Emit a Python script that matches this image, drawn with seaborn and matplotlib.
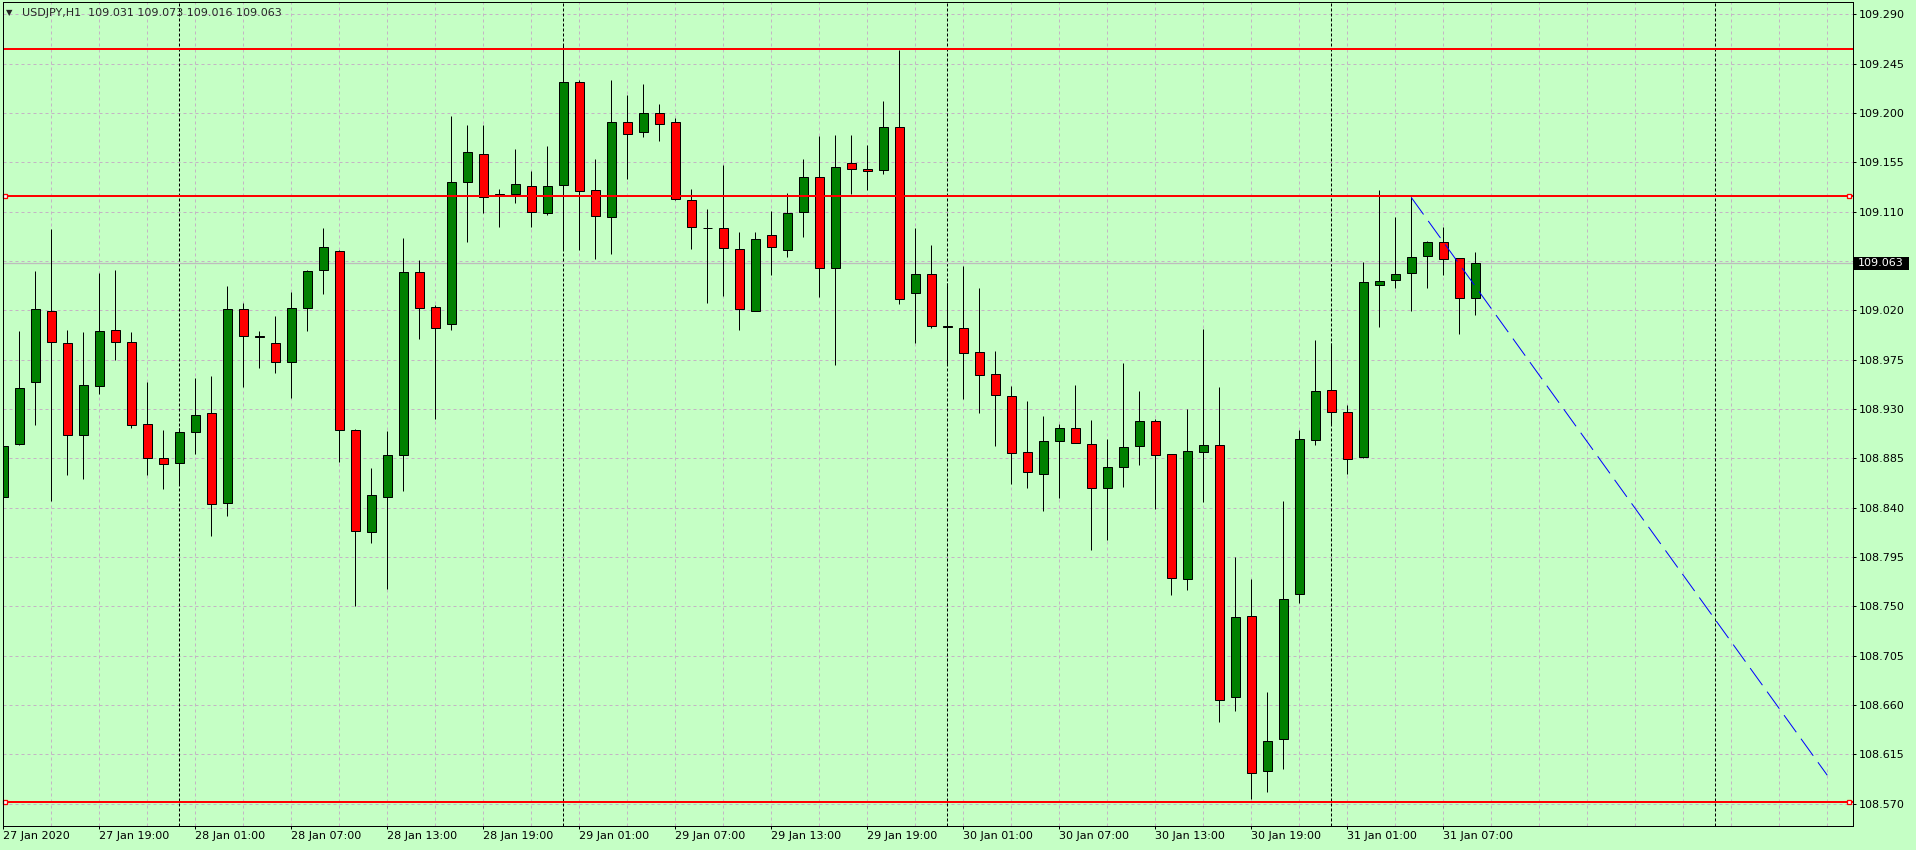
import numpy as np
import pandas as pd
import matplotlib.pyplot as plt
import seaborn as sns
from matplotlib.patches import Rectangle
from matplotlib.transforms import IdentityTransform

# ***** ***** ***** chart data ***** ***** ***** #
symbol = "USDJPY,H1"
start_time = "2020-01-27 13:00"

opens = [108.850, 108.898, 108.955, 109.019, 108.990, 108.906, 108.951, 109.002, 108.991, 108.916,
         108.885, 108.881, 108.909, 108.926, 108.844, 109.021, 108.997, 108.990, 108.973, 109.022,
         109.057, 109.074, 108.911, 108.818, 108.850, 108.888, 109.055, 109.023, 109.008, 109.137,
         109.163, 109.126, 109.126, 109.133, 109.109, 109.134, 109.228, 109.130, 109.105, 109.192,
         109.183, 109.200, 109.192, 109.121, 109.095, 109.095, 109.076, 109.019, 109.089, 109.075,
         109.110, 109.142, 109.059, 109.154, 109.149, 109.148, 109.187, 109.036, 109.053, 109.006,
         109.004, 108.982, 108.962, 108.942, 108.891, 108.871, 108.901, 108.913, 108.898, 108.858,
         108.877, 108.896, 108.919, 108.889, 108.775, 108.891, 108.897, 108.667, 108.741, 108.600,
         108.629, 108.761, 108.902, 108.947, 108.927, 108.886, 109.043, 109.048, 109.054, 109.070,
         109.082, 109.068, 109.031]
highs = [108.951, 109.001, 109.056, 109.094, 109.002, 109.000, 109.054, 109.057, 109.000, 108.955,
         108.911, 108.913, 108.958, 108.960, 109.042, 109.027, 109.001, 109.015, 109.037, 109.057,
         109.095, 109.075, 108.912, 108.876, 108.910, 109.086, 109.066, 109.025, 109.197, 109.189,
         109.189, 109.131, 109.167, 109.147, 109.170, 109.263, 109.230, 109.158, 109.230, 109.216,
         109.226, 109.208, 109.195, 109.131, 109.112, 109.153, 109.091, 109.091, 109.111, 109.127,
         109.158, 109.179, 109.180, 109.180, 109.171, 109.211, 109.257, 109.095, 109.080, 109.045,
         109.060, 109.040, 108.983, 108.951, 108.937, 108.924, 108.916, 108.952, 108.920, 108.903,
         108.972, 108.946, 108.921, 108.889, 108.930, 109.003, 108.950, 108.795, 108.775, 108.672,
         108.846, 108.911, 108.993, 108.990, 108.934, 109.064, 109.130, 109.105, 109.123, 109.083,
         109.096, 109.068, 109.073]
lows = [108.822, 108.897, 108.915, 108.846, 108.870, 108.866, 108.944, 108.975, 108.913, 108.870,
        108.857, 108.861, 108.889, 108.814, 108.832, 108.950, 108.967, 108.963, 108.940, 109.001,
        109.035, 108.882, 108.750, 108.808, 108.766, 108.855, 108.994, 108.921, 109.002, 109.082,
        109.109, 109.096, 109.118, 109.096, 109.107, 109.075, 109.075, 109.067, 109.071, 109.140,
        109.178, 109.174, 109.121, 109.076, 109.027, 109.033, 109.002, 109.019, 109.052, 109.069,
        109.087, 109.032, 108.970, 109.126, 109.130, 109.144, 109.026, 108.990, 109.004, 108.970,
        108.939, 108.926, 108.896, 108.862, 108.858, 108.837, 108.849, 108.899, 108.801, 108.811,
        108.859, 108.879, 108.839, 108.760, 108.765, 108.845, 108.645, 108.655, 108.574, 108.581,
        108.602, 108.753, 108.897, 108.915, 108.871, 108.885, 109.005, 109.040, 109.019, 109.040,
        109.052, 108.998, 109.016]
closes = [108.896, 108.949, 109.021, 108.991, 108.906, 108.952, 109.001, 108.991, 108.915, 108.885,
          108.880, 108.909, 108.925, 108.843, 109.021, 108.997, 108.996, 108.973, 109.022, 109.056,
          109.078, 108.911, 108.819, 108.852, 108.888, 109.055, 109.022, 109.004, 109.137, 109.164,
          109.123, 109.125, 109.135, 109.110, 109.133, 109.228, 109.129, 109.106, 109.192, 109.181,
          109.200, 109.190, 109.122, 109.096, 109.095, 109.077, 109.021, 109.085, 109.078, 109.109,
          109.142, 109.059, 109.151, 109.149, 109.147, 109.187, 109.030, 109.053, 109.006, 109.005,
          108.981, 108.961, 108.943, 108.890, 108.873, 108.901, 108.913, 108.899, 108.858, 108.877,
          108.895, 108.919, 108.888, 108.776, 108.892, 108.897, 108.665, 108.740, 108.598, 108.627,
          108.757, 108.903, 108.946, 108.927, 108.884, 109.046, 109.047, 109.053, 109.069, 109.082,
          109.067, 109.031, 109.063]

price_ticks = [109.290, 109.245, 109.200, 109.155, 109.110, 109.065, 109.020, 108.975,
               108.930, 108.885, 108.840, 108.795, 108.750, 108.705, 108.660, 108.615, 108.570]
hidden_tick = 109.065  # sits under the price tag

levels = [109.258, 109.124, 108.572]
level_marked = [False, True, True]

trend_bars = [88, 114]
trend_prices = [109.123, 108.596]

# ***** ***** ***** style ***** ***** ***** #
sns.set_style("ticks")
plt.rcParams["font.family"] = ["DejaVu Sans"]
plt.rcParams["lines.scale_dashes"] = False

bg = "#C5FFC5"
grid_c = "#C4B4C4"
px = 0.72  # one pixel in points at dpi 100
W, H = 1916, 850

df = pd.DataFrame({"open": opens, "high": highs, "low": lows, "close": closes})
df["bar"] = np.arange(len(df))
df["up"] = df["close"] >= df["open"]
times = pd.date_range(start_time, periods=len(df) + 24, freq="h")

fig = plt.figure(figsize=(W / 100, H / 100), dpi=100, facecolor=bg)
ax = fig.add_axes([2.7 / W, 24 / H, 1850 / W, 824.3 / H])
ax.set_facecolor(bg)
xmin, xmax = -0.0375, 115.59
ax.set_xlim(xmin, xmax)
ax.set_ylim(108.5497, 109.3015)

# grid
for p in price_ticks:
    ax.axhline(p, color=grid_c, lw=px, ls=(0, (3 * px, 3 * px)), zorder=1)
for b in range(3, int(xmax) + 1, 3):
    ax.axvline(b, color=grid_c, lw=px, ls=(0, (3 * px, 3 * px)), zorder=1)

# day separators
for i, t in enumerate(times):
    if t.hour == 0 and i < xmax:
        ax.axvline(i, color="black", lw=px, ls=(0, (3 * px, 2 * px)), zorder=2)

# bid line
ax.axhline(closes[-1], color="#BDBDBD", lw=1.3 * px, zorder=2)

# candles
ax.vlines(df["bar"], df["low"], df["high"], color="black", lw=px, zorder=3)
ax.bar(df["bar"], (df["close"] - df["open"]).abs(),
       bottom=df[["open", "close"]].min(axis=1), width=0.58,
       color=np.where(df["up"], "#008000", "#FF0000"),
       edgecolor="black", linewidth=px, zorder=4)

# horizontal levels
for lv, mk in zip(levels, level_marked):
    ax.axhline(lv, color="#FF0000", lw=2 * px, zorder=5)
    if mk:
        ax.plot([0.09, 115.36], [lv, lv], "s", ms=5 * px, mfc="white", mec="#FF0000",
                mew=1.3 * px, zorder=6, clip_on=False)

# trend line
sns.lineplot(x=trend_bars, y=trend_prices, color="blue", lw=px,
             linestyle=(0, (21 * px, 8 * px)), ax=ax, zorder=6)

# axes
for s in ax.spines.values():
    s.set_color("black")
    s.set_linewidth(px)
    s.set_zorder(7)

ax.yaxis.tick_right()
ax.set_yticks(price_ticks)
ax.set_yticklabels(["" if abs(p - hidden_tick) < 1e-6 else f"{p:.3f}" for p in price_ticks])
ax.tick_params(axis="y", length=3 * px, width=px, pad=3 * px, labelsize=8, colors="black")

label_bars = list(range(0, len(df), 6))
labels = [times[0].strftime("%d %b %Y")] + [times[i].strftime("%d %b %H:%M") for i in label_bars[1:]]
ax.set_xticks(label_bars)
ax.set_xticklabels(labels, ha="left")
ax.tick_params(axis="x", length=3 * px, width=px, pad=2 * px, labelsize=8, colors="black")
ax.set_xlabel("")
ax.set_ylabel("")

# price tag
fig.canvas.draw()
y_bid = ax.transData.transform((0, closes[-1]))[1]
fig.add_artist(Rectangle((1854, y_bid - 6.5), 55, 13, facecolor="black", edgecolor="none",
                         transform=IdentityTransform(), zorder=8))
fig.text(1858, y_bid, f"{closes[-1]:.3f}", color="white", fontsize=8, va="center",
         ha="left", transform=IdentityTransform(), zorder=9)

# header
hdr = f"{symbol}  {opens[-1]:.3f} {highs[-1]:.3f} {lows[-1]:.3f} {closes[-1]:.3f}"
fig.text(6 / W, 1 - 13 / H, "\u25bc", fontsize=6, va="center", ha="left")
fig.text(22 / W, 1 - 13 / H, hdr, fontsize=8, va="center", ha="left")

fig.savefig("out.png", dpi=100, facecolor=bg)
